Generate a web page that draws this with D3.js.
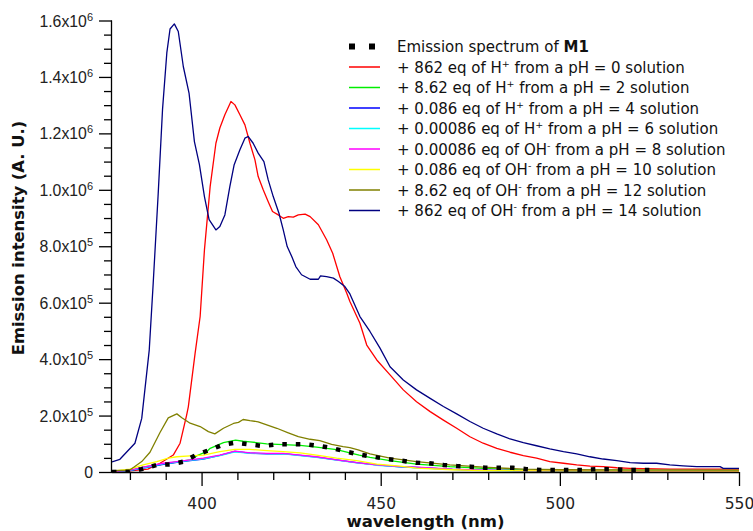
<!DOCTYPE html>
<html>
<head>
<meta charset="utf-8">
<script src="https://cdn.jsdelivr.net/npm/d3@7"></script>
<style>
  html, body { margin: 0; padding: 0; background: #fff; }
  svg { display: block; font-family: "DejaVu Sans", Verdana, sans-serif; }
</style>
</head>
<body>
<svg id="chart" width="753" height="531"></svg>
<script>
// ---- Data (wavelength nm, intensity in units of 1e3 A.U.) ----
const seriesNames = [
  "M1", "pH0", "pH2", "pH4", "pH6", "pH8", "pH10", "pH12", "pH14"
];
const seriesColors = ["#000000", "#ff0000", "#00ee00", "#0000ff", "#00ffff", "#ff00ff", "#ffff00", "#808000", "#000080"];

const m1 = [[375,0],[379.8,1],[383.3,10],[387.5,25],[391.2,27],[395.1,37],[398.4,60],[402.2,78],[405.8,96],[409.5,104],[413.3,98],[417.2,92],[421.1,98],[425.2,98],[429.1,98],[432.9,92],[436.6,84],[440.5,72],[444,62],[447.9,54],[451.8,46],[455.9,40],[459.8,33],[463.5,31],[467.5,25],[471.2,21],[475.1,19],[479.1,15],[483,15],[487,15],[490.7,10],[494.6,7],[498.6,7],[502.5,7],[506.4,7],[510.3,10],[514.2,10],[518.2,7],[521.9,7],[526,7]];

const pH0 = [[375,5],[380,4],[385,10],[388.4,31],[392.1,60],[394,102],[395.8,200],[396.3,231],[398.2,421],[399.6,551],[400.8,787],[402.4,1012],[404,1165],[405.1,1219],[406.5,1266],[408.2,1313],[409.3,1301],[410.7,1266],[412.1,1230],[413.5,1165],[414.9,1106],[415.8,1047],[417.2,1000],[418.6,958],[419.8,923],[421.4,911],[422.8,899],[424.2,905],[425.6,903],[427,911],[428.9,914],[430.3,905],[432.6,876],[434.9,823],[436.6,775],[438.6,692],[440.5,634],[441.4,604],[444.2,527],[446.1,450],[448.9,397],[452.6,344],[456.3,291],[460,249],[463.8,214],[467.5,184],[471.2,155],[474.9,125],[478.6,102],[482.4,84],[486.1,70],[489.8,58],[493.5,49],[497.2,37],[501,31],[504.7,25],[508.4,21],[512.1,19],[515.9,15],[519.6,13],[530.7,10],[550,10]];

const pH2 = [[375,2],[380,5],[383.7,17],[390.7,31],[396.8,43],[398.6,57],[401.4,72],[402.4,84],[406.1,104],[409.5,113],[411.6,109],[413.5,107],[418.2,100],[422.8,97],[427.5,94],[432.1,88],[437.7,79],[441.4,68],[444,60],[447,52],[452.6,40],[460,28],[469.3,19],[478.6,13],[490,7],[500,5],[550,4]];

const pH4 = [[375,2],[380,5],[383.7,14],[389.3,27],[393.1,34],[396.8,40],[400.5,46],[405.1,59],[409.3,73],[413.5,67],[418.2,64],[422.8,65],[427.5,59],[432.1,53],[437.7,43],[443.3,33],[448.9,25],[455.4,18],[460,16],[470,9],[478.6,6],[490,4],[550,2]];

const pH6 = [[375,1],[380,6],[383.7,15],[389.3,29],[393.1,35],[396.8,41],[400.5,47],[405.1,58],[409.3,71],[413.5,66],[418.2,65],[422.8,64],[427.5,58],[432.1,52],[437.7,42],[443.3,32],[448.9,24],[455.4,18],[460,15],[470,9],[478.6,6],[490,5],[510,4],[550,2]];

const pH8 = [[375,1],[380,7],[383.7,17],[389.3,31],[393.1,37],[396.8,43],[400.5,49],[405.1,60],[409.3,74],[413.5,68],[418.2,66],[422.8,66],[427.5,60],[432.1,54],[437.7,43],[443.3,33],[448.9,25],[455.4,19],[460,17],[470,10],[478.6,7],[490,5],[510,5],[513,3],[550,2]];

const pH10 = [[375,3],[380,10],[383.7,25],[387.5,37],[390.7,49],[393.1,54],[396.8,57],[400.5,60],[405.1,72],[409.3,80],[413.5,80],[418.2,76],[422.8,72],[427.5,68],[432.1,60],[437.7,49],[443.3,40],[448.9,28],[455.4,21],[460,14],[470,8],[478.6,5],[500,4],[550,3]];

const pH12 = [[375,5],[380,7],[383.3,37],[385.6,70],[388.4,140],[390.7,192],[393.1,206],[394.5,192],[396.8,173],[399.6,161],[401.9,143],[403.7,135],[406.1,155],[408.9,172],[410.3,176],[411.6,186],[413.5,182],[415.8,178],[418.2,167],[421,155],[424.2,139],[427,125],[430.3,116],[433,111],[436.3,98],[439.5,90],[441.4,86],[443.7,78],[447,64],[452.6,49],[460,37],[469.3,25],[478.6,17],[489.8,10],[500,8],[550,7]];

const pH14 = [[375,36],[377.2,45],[381.4,102],[383.3,190],[385.4,433],[386.5,669],[387.9,988],[389.1,1284],[390.3,1485],[391.2,1570],[392.4,1588],[393.5,1561],[394.9,1437],[396.5,1343],[398,1171],[399.4,1089],[400.8,976],[402.1,894],[404,858],[405.1,870],[406.5,911],[407.9,1012],[409.1,1089],[410.7,1142],[412.1,1183],[413,1189],[414.4,1165],[415.8,1130],[417.4,1100],[418.6,1035],[420,976],[421.6,917],[422.8,858],[423.9,799],[425.2,763],[426.3,728],[427.9,699],[430.3,683],[432.6,683],[433.2,695],[434.9,692],[436.8,687],[438.2,675],[440,657],[441.4,631],[444.2,551],[447,498],[449.8,439],[452.6,373],[456.3,326],[460,291],[463.8,261],[467.5,232],[471.2,206],[474.9,179],[478.6,155],[482.4,135],[486.1,117],[489.8,104],[493.5,93],[497.2,82],[501,72],[504.7,64],[508.4,54],[512.1,46],[515.9,40],[519.6,33],[523.3,31],[527,31],[530.7,25],[534.4,22],[538.2,19],[541.9,19],[544.7,19],[545.6,13],[550,13]];

const legendLabels = [
  ["Emission spectrum of ", null, "M1"],
  ["+ 862 eq of H", "+", " from a pH = 0 solution"],
  ["+ 8.62 eq of H", "+", " from a pH = 2 solution"],
  ["+ 0.086 eq of H", "+", " from a pH = 4 solution"],
  ["+ 0.00086 eq of H", "+", " from a pH = 6 solution"],
  ["+ 0.00086 eq of OH", "-", " from a pH = 8 solution"],
  ["+ 0.086 eq of OH", "-", " from a pH = 10 solution"],
  ["+ 8.62 eq of OH", "-", " from a pH = 12 solution"],
  ["+ 862 eq of OH", "-", " from a pH = 14 solution"]
];

const xMajorTicks = [400, 450, 500, 550];
const yMajorTicks = [0, 200000, 400000, 600000, 800000, 1000000, 1200000, 1400000, 1600000];
const yTickMantissa = ["0", "2.0", "4.0", "6.0", "8.0", "1.0", "1.2", "1.4", "1.6"];
const yTickExponent = [null, "5", "5", "5", "5", "6", "6", "6", "6"];

const xLabel = "wavelength (nm)";
const yLabel = "Emission intensity (A. U.)";

// ---- Layout ----
const svg = d3.select("#chart");
const pLeft = 112, pRight = 739, pTop = 20.5, pBottom = 472;
const x = d3.scaleLinear().domain([375, 550]).range([pLeft, pRight]);
const y = d3.scaleLinear().domain([0, 1600000]).range([pBottom, pTop]);

svg.append("defs").append("clipPath").attr("id", "clip")
  .append("rect").attr("x", pLeft).attr("y", 0).attr("width", pRight - pLeft).attr("height", pBottom);

const allData = [m1, pH0, pH2, pH4, pH6, pH8, pH10, pH12, pH14];
const line = d3.line().x(d => x(d[0])).y(d => y(d[1] * 1000));

const plot = svg.append("g").attr("clip-path", "url(#clip)");
const order = [1, 2, 3, 4, 5, 6, 7, 8, 0];
order.forEach(i => {
  const p = plot.append("path")
    .datum(allData[i])
    .attr("fill", "none")
    .attr("stroke", seriesColors[i])
    .attr("d", line);
  if (i === 0) {
    p.attr("stroke-width", 4.5).attr("stroke-dasharray", "4.5,9");
  } else {
    p.attr("stroke-width", 1.3).attr("stroke-linejoin", "round");
  }
});

// ---- Axes ----
const axisColor = "#000";
const xAxis = d3.axisBottom(x).tickValues(xMajorTicks).tickSize(14).tickFormat(d3.format("d")).tickPadding(10);
const xMinor = d3.axisBottom(x).tickValues(d3.range(380, 551, 10).filter(v => v % 50 !== 0)).tickSize(8).tickFormat("");
const gx = svg.append("g").attr("transform", `translate(0,${pBottom})`).call(xAxis);
const gxm = svg.append("g").attr("transform", `translate(0,${pBottom})`).call(xMinor);
[gx, gxm].forEach(g => {
  g.select(".domain").attr("stroke", axisColor).attr("stroke-width", 1.3).attr("d", `M${pLeft},0.5H${pRight}`);
  g.selectAll(".tick line").attr("stroke", axisColor).attr("stroke-width", 1.3);
});
gxm.select(".domain").remove();
gx.selectAll(".tick text")
  .attr("font-family", "DejaVu Sans, Verdana, sans-serif")
  .attr("font-size", 15.5).attr("fill", "#222").attr("dy", null).attr("y", 37);

const yMinorVals = d3.range(0, 1600001, 50000).filter(v => v % 200000 !== 0);
const yAxis = d3.axisLeft(y).tickValues(yMajorTicks).tickSize(13).tickFormat("");
const yMinor = d3.axisLeft(y).tickValues(yMinorVals).tickSize(8).tickFormat("");
const gy = svg.append("g").attr("transform", `translate(${pLeft},0)`).call(yAxis);
const gym = svg.append("g").attr("transform", `translate(${pLeft},0)`).call(yMinor);
[gy, gym].forEach(g => {
  g.select(".domain").attr("stroke", axisColor).attr("stroke-width", 1.3).attr("d", `M-0.5,${pTop}V${pBottom}`);
  g.selectAll(".tick line").attr("stroke", axisColor).attr("stroke-width", 1.3);
});
gym.select(".domain").remove();

gy.selectAll(".tick").each(function(d) {
  const idx = yMajorTicks.indexOf(d);
  const t = d3.select(this).append("text")
    .attr("x", -19).attr("y", 5.5)
    .attr("text-anchor", "end")
    .attr("fill", "#222")
    .attr("font-size", 15.8);
  if (yTickExponent[idx] === null) {
    t.text(yTickMantissa[idx]);
  } else {
    t.append("tspan").text(yTickMantissa[idx] + "x10");
    t.append("tspan").attr("font-size", 11).attr("dy", -6).text(yTickExponent[idx]);
  }
});

svg.append("text")
  .attr("x", (pLeft + pRight) / 2).attr("y", 527)
  .attr("text-anchor", "middle")
  .attr("font-weight", "bold").attr("font-size", 16.5).attr("fill", "#111")
  .text(xLabel);
svg.append("text")
  .attr("transform", `translate(24,238) rotate(-90)`)
  .attr("text-anchor", "middle")
  .attr("font-weight", "bold").attr("font-size", 16.4).attr("fill", "#111")
  .text(yLabel);

// ---- Legend ----
const lg = svg.append("g");
legendLabels.forEach((lab, i) => {
  const cy = 46.5 + i * 20.5;
  if (i === 0) {
    lg.append("rect").attr("x", 349).attr("y", cy - 3).attr("width", 6).attr("height", 6).attr("fill", "#000");
    lg.append("rect").attr("x", 369).attr("y", cy - 3).attr("width", 6).attr("height", 6).attr("fill", "#000");
  } else {
    lg.append("line").attr("x1", 349).attr("x2", 380).attr("y1", cy).attr("y2", cy)
      .attr("stroke", seriesColors[i]).attr("stroke-width", 1.5);
  }
  const t = lg.append("text").attr("x", 397).attr("y", cy + 5.5)
    .attr("font-size", 15).attr("fill", "#111");
  if (i === 0) {
    t.append("tspan").text(lab[0]);
    t.append("tspan").attr("font-weight", "bold").text(lab[2]);
  } else {
    t.append("tspan").text(lab[0]);
    t.append("tspan").attr("font-size", 9.5).attr("dy", -6).text(lab[1]);
    t.append("tspan").attr("dy", 6).text(lab[2]);
  }
});
</script>
</body>
</html>
